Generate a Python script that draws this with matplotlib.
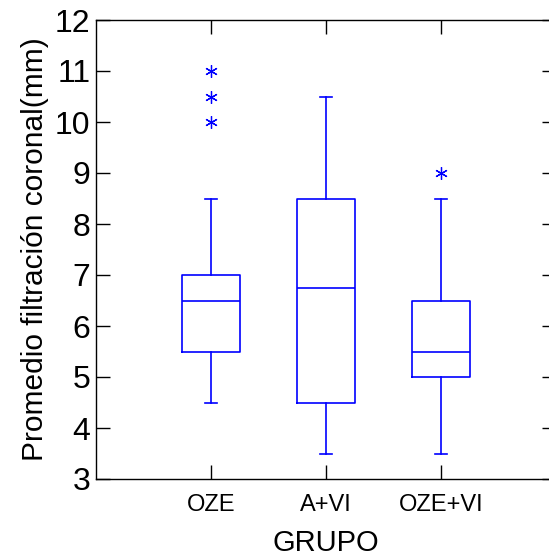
import matplotlib.pyplot as plt

plt.rcParams["font.family"] = ["Liberation Sans", "DejaVu Sans"]

groups = ["OZE", "A+VI", "OZE+VI"]
q1 = [5.5, 4.5, 5.0]
med = [6.5, 6.75, 5.5]
q3 = [7.0, 8.5, 6.5]
whislo = [4.5, 3.5, 3.5]
whishi = [8.5, 10.5, 8.5]
fliers = [[10.0, 10.5, 11.0], [], [9.0]]

stats = []
for i, g in enumerate(groups):
    stats.append({"label": g, "q1": q1[i], "med": med[i], "q3": q3[i],
                  "whislo": whislo[i], "whishi": whishi[i], "fliers": fliers[i]})

fig = plt.figure(figsize=(5.49, 5.57), dpi=100)
# axes run past the right edge, like the cropped original
ax = fig.add_axes([96 / 549, 1 - 479 / 557, 460 / 549, 459 / 557])

blue = "#0000ff"
ax.bxp(stats, positions=[1, 2, 3], widths=0.5, showfliers=True,
       boxprops=dict(color=blue, lw=1.2),
       medianprops=dict(color=blue, lw=1.2),
       whiskerprops=dict(color=blue, lw=1.2),
       capprops=dict(color=blue, lw=1.2),
       capwidths=0.1,
       flierprops=dict(marker=(6, 2, 0), markeredgecolor=blue, markersize=9,
                       markeredgewidth=0.9, linestyle="none"))

ax.set_xlim(0, 4)
ax.set_ylim(3, 12)
ax.set_yticks(range(3, 13))
ax.set_xticks([1, 2, 3])
ax.set_xticklabels(groups, fontsize=17)
ax.tick_params(axis="y", labelsize=23, pad=4)
ax.tick_params(axis="x", pad=11)
ax.tick_params(direction="in", length=10, width=1, top=True, right=True)
ax.set_xlabel("GRUPO", fontsize=21, labelpad=9)
ax.set_ylabel("Promedio filtración coronal(mm)", fontsize=21.5, labelpad=4)
for s in ax.spines.values():
    s.set_linewidth(1)

fig.savefig("out.png", dpi=100)
